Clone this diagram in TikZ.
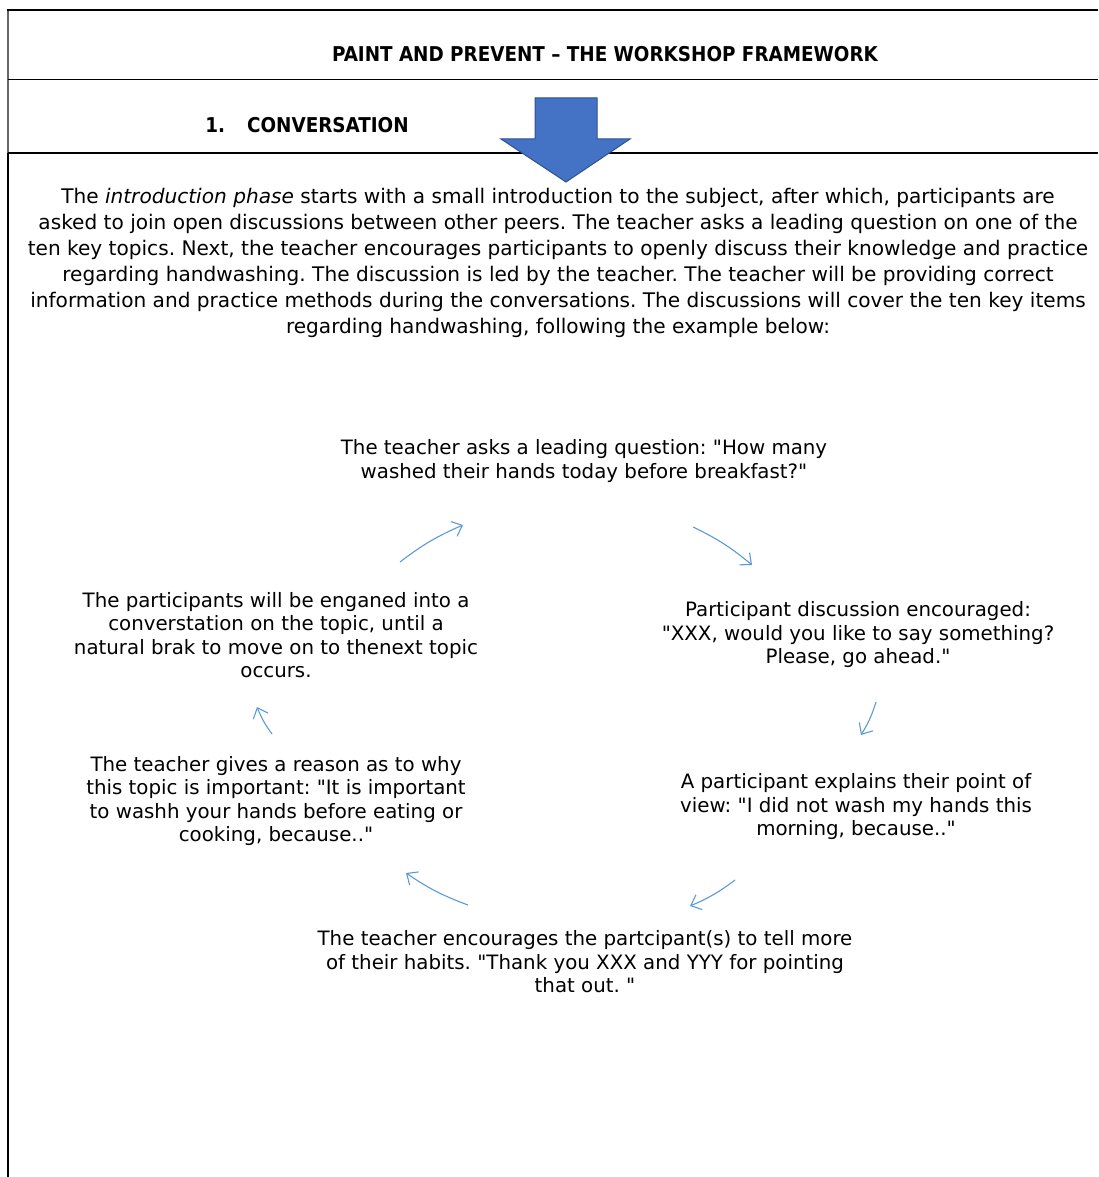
\documentclass[tikz,border=0pt]{standalone}
\usepackage{fontspec}
\setmainfont{DejaVu Sans}
\newfontfamily\hdrfont{DejaVu Sans Condensed}
\usetikzlibrary{arrows.meta}
\definecolor{arrowfill}{HTML}{4472C4}
\definecolor{arrowedge}{HTML}{2F528F}
\definecolor{cyc}{HTML}{5B9BD5}
\newcommand{\qt}{\textquotedbl}
\tikzset{
  txt/.style={inner sep=0pt, align=center, font=\fontsize{20.1}{26}\selectfont},
  cyctxt/.style={inner sep=0pt, align=center, font=\fontsize{19.8}{23.5}\selectfont},
  hdr/.style={inner sep=0pt, align=center, font=\hdrfont\fontsize{20.4}{24}\selectfont\bfseries},
  cycarrow/.style={draw=cyc, line width=1.1pt, -{Straight Barb[length=9pt,width=16pt,line width=1.1pt]}, bend left=7},
}
\begin{document}
\frenchspacing
\begin{tikzpicture}[x=1pt,y=-1pt]
\useasboundingbox (0,0) rectangle (1098,1177);
% frame
\draw[line width=2pt, black!60] (8,10) -- (8,153);
\draw[line width=2pt, black] (8,153) -- (8,1177);
\draw[line width=2pt] (7,10) -- (1098,10);
\draw[line width=1pt] (8,80) -- (1098,80);
\draw[line width=2pt] (8,153) -- (1098,153);
% headers
\node[hdr] (title) at (605,54) {PAINT AND PREVENT – THE WORKSHOP FRAMEWORK};
\node[hdr] (conv) at (307,125) {1.\hspace{22pt}CONVERSATION};
% big blue arrow
\fill[arrowfill, draw=arrowedge, line width=1pt] (535,98) -- (597,98) -- (597,139) -- (630,139) -- (566,182) -- (501,139) -- (535,139) -- cycle;
% paragraph
\node[txt] (para) at (558,262.5) {The \textit{introduction phase} starts with a small introduction to the subject, after which, participants are\\
asked to join open discussions between other peers. The teacher asks a leading question on one of the\\
ten key topics. Next, the teacher encourages participants to openly discuss their knowledge and practice\\
regarding handwashing. The discussion is led by the teacher. The teacher will be providing correct\\
information and practice methods during the conversations. The discussions will cover the ten key items\\
regarding handwashing, following the example below:};
% cycle nodes
\node[cyctxt] (n1) at (584,461) {The teacher asks a leading question: \qt How many\\ washed their hands today before breakfast?\qt};
\node[cyctxt] (n2) at (858,635) {Participant discussion encouraged:\\ \qt XXX, would you like to say something?\\ Please, go ahead.\qt};
\node[cyctxt] (n3) at (856,807) {A participant explains their point of\\ view: \qt I did not wash my hands this\\ morning, because..\qt};
\node[cyctxt] (n4) at (585,962) {The teacher encourages the partcipant(s) to tell more\\ of their habits. \qt Thank you XXX and YYY for pointing\\ that out. \qt};
\node[cyctxt] (n5) at (276,801) {The teacher gives a reason as to why\\ this topic is important: \qt It is important\\ to washh your hands before eating or\\ cooking, because..\qt};
\node[cyctxt] (n6) at (276,635) {The participants will be enganed into a\\ converstation on the topic, until a\\ natural brak to move on to thenext topic\\ occurs.};
% arrow end points
\coordinate (a1) at (400,562); \coordinate (a2) at (463,525);
\coordinate (b1) at (693,527); \coordinate (b2) at (752,565);
\coordinate (c1) at (876,702); \coordinate (c2) at (861,735);
\coordinate (d1) at (735,880); \coordinate (d2) at (690,906);
\coordinate (e1) at (468,905); \coordinate (e2) at (406,873);
\coordinate (f1) at (272,734); \coordinate (f2) at (257,707);
\draw[cycarrow] (a1) to (a2);
\draw[cycarrow] (b1) to (b2);
\draw[cycarrow] (c1) to (c2);
\draw[cycarrow] (d1) to (d2);
\draw[cycarrow] (e1) to (e2);
\draw[cycarrow] (f1) to (f2);
\end{tikzpicture}
\end{document}
